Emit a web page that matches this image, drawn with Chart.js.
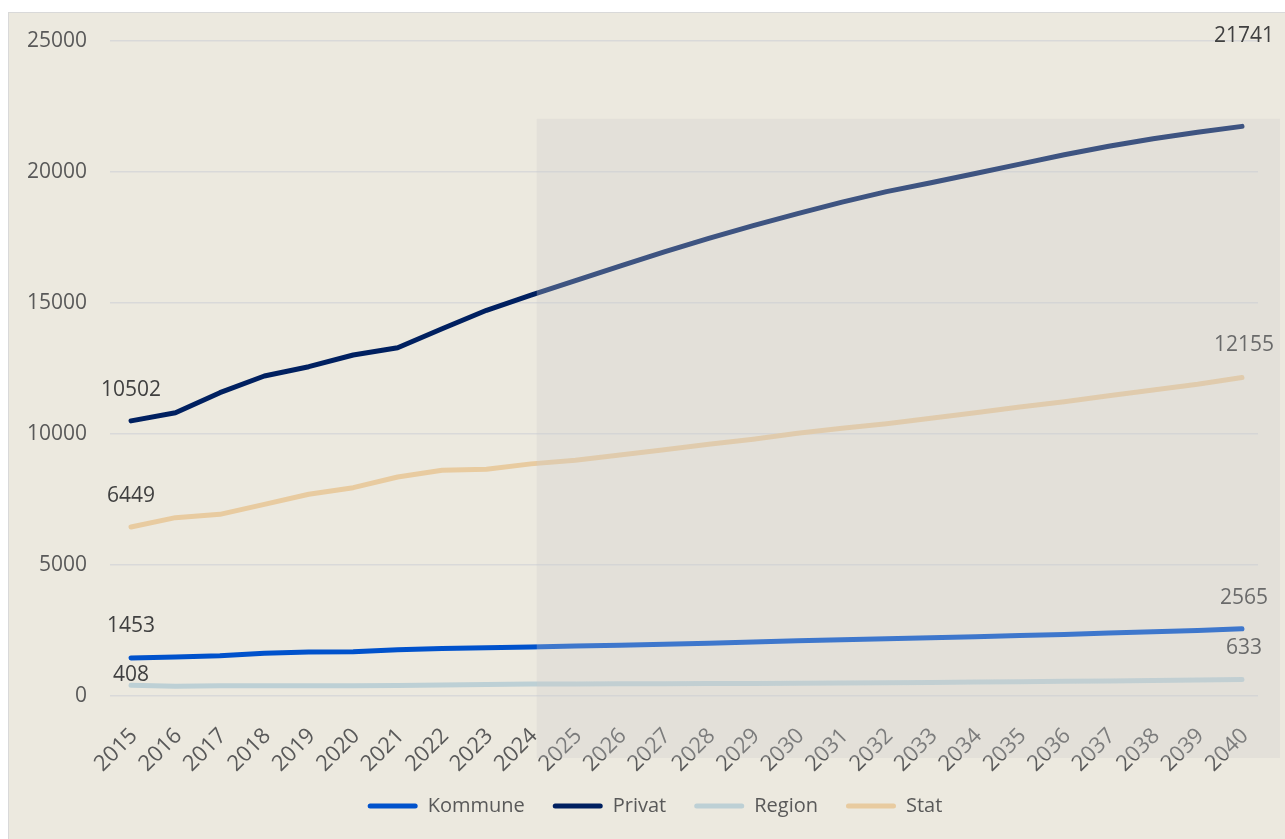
<!DOCTYPE html>
<html>
<head>
<meta charset="utf-8">
<script src="https://cdn.jsdelivr.net/npm/chart.js@4.4.1/dist/chart.umd.min.js"></script>
<style>
  html, body { margin: 0; padding: 0; background: #fff; overflow: hidden; }
  #box { position: absolute; left: 8px; top: 12px; width: 1336px; height: 826px; border: 1px solid #d9d9d9; background: #ece9df; }
  canvas { display: block; }
</style>
</head>
<body>
<div id="box"><canvas id="myChart" width="1336" height="826"></canvas></div>
<script>
const years = [2015, 2016, 2017, 2018, 2019, 2020, 2021, 2022, 2023, 2024, 2025, 2026, 2027,
  2028, 2029, 2030, 2031, 2032, 2033, 2034, 2035, 2036, 2037, 2038, 2039, 2040]

const kommune = [1453, 1489, 1539, 1630, 1679, 1691, 1768, 1815, 1844, 1870, 1905, 1940, 1975,
  2010, 2060, 2105, 2145, 2185, 2225, 2265, 2305, 2350, 2400, 2450, 2500, 2565]
const privat = [10502, 10813, 11577, 12214, 12569, 13015, 13294, 14020, 14721, 15300, 15850, 16410, 16950,
  17470, 17950, 18410, 18850, 19250, 19590, 19940, 20300, 20660, 20980, 21270, 21520, 21741]
const region = [408, 375, 390, 395, 395, 395, 400, 420, 440, 455, 460, 465, 470,
  475, 480, 490, 500, 510, 520, 530, 545, 560, 575, 590, 610, 633]
const stat = [6449, 6807, 6934, 7316, 7698, 7952, 8359, 8613, 8651, 8860, 8995, 9198, 9401,
  9606, 9797, 10025, 10216, 10394, 10598, 10814, 11031, 11233, 11462, 11679, 11896, 12155]

const yTicks = [0, 5000, 10000, 15000, 20000, 25000]

// label distance above first / last point
const labelOffsets = { Kommune: [32, 31], Privat: [31, 90], Region: [10, 31], Stat: [31, 33] }

Chart.defaults.font.family = "'Open Sans', sans-serif"
Chart.defaults.font.size = 21
Chart.defaults.color = '#595959'

function series(label, values, color) {
  return {
    label: label,
    data: values.map((v, i) => ({ x: years[i], y: v })),
    borderColor: color,
    backgroundColor: color,
    borderWidth: 5,
    borderCapStyle: 'round',
    borderJoinStyle: 'round',
    pointRadius: 0,
    tension: 0
  }
}

// don't clip tick labels to the axis box
const noClip = scale => { scale._computeLabelArea = () => null }

const endLabels = {
  id: 'endLabels',
  afterDatasetsDraw(chart) {
    const ctx = chart.ctx
    ctx.save()
    ctx.font = "21px 'Open Sans', sans-serif"
    ctx.fillStyle = '#404040'
    ctx.textAlign = 'center'
    ctx.textBaseline = 'middle'
    chart.data.datasets.forEach((ds, i) => {
      const pts = chart.getDatasetMeta(i).data
      const off = labelOffsets[ds.label]
      const a = pts[0], b = pts[pts.length - 1]
      ctx.fillText(ds.data[0].y, a.x, a.y - off[0])
      ctx.fillText(ds.data[ds.data.length - 1].y, b.x + 2, b.y - off[1])
    })
    ctx.restore()
  }
}

// grey box over the forecast years
const forecastShade = {
  id: 'forecastShade',
  afterDraw(chart) {
    const ctx = chart.ctx
    const x = chart.scales.x, y = chart.scales.y
    const area = chart.chartArea
    const left = x.getPixelForValue(2024.13)
    const top = y.getPixelForValue(22030)
    ctx.save()
    ctx.fillStyle = 'rgba(205,205,205,0.3)'
    ctx.fillRect(left, top, area.right + 22 - left, area.bottom + 62 - top)
    ctx.restore()
  }
}

const ctx = document.getElementById('myChart')

new Chart(ctx, {
  type: 'line',
  data: {
    datasets: [
      series('Kommune', kommune, '#0052cc'),
      series('Privat', privat, '#002060'),
      series('Region', region, '#bdd0d5'),
      series('Stat', stat, '#e8cba0')
    ]
  },
  options: {
    responsive: false,
    animation: false,
    layout: { padding: { top: 28, right: 87, left: 43, bottom: 13 } },
    scales: {
      x: {
        type: 'linear',
        min: 2014.527,
        max: 2040.36,
        afterBuildTicks: scale => { scale.ticks = years.map(v => ({ value: v })) },
        afterFit: scale => { scale.height = 72; noClip(scale) },
        grid: { display: false },
        border: { display: false },
        ticks: { font: { size: 22 }, minRotation: 45, maxRotation: 45, autoSkip: false, padding: 19, labelOffset: 3, callback: v => String(v) }
      },
      y: {
        min: 0,
        max: 25000,
        afterBuildTicks: scale => { scale.ticks = yTicks.map(v => ({ value: v })) },
        afterFit: scale => { scale.width = 58; noClip(scale) },
        grid: { color: '#d9d9d9', lineWidth: 1.5, drawTicks: true, tickLength: 23, tickColor: 'rgba(0,0,0,0)' },
        border: { display: false },
        ticks: { padding: 0, callback: v => String(v) }
      }
    },
    plugins: {
      tooltip: { enabled: false },
      legend: {
        position: 'bottom',
        labels: {
          font: { size: 20 },
          boxWidth: 50,
          boxHeight: 5,
          padding: 28,
          useBorderRadius: true,
          borderRadius: 2.5,
          generateLabels: chart => Chart.defaults.plugins.legend.labels.generateLabels(chart)
            .map(item => Object.assign(item, { lineWidth: 0 }))
        }
      }
    }
  },
  plugins: [endLabels, forecastShade]
})
</script>
</body>
</html>
